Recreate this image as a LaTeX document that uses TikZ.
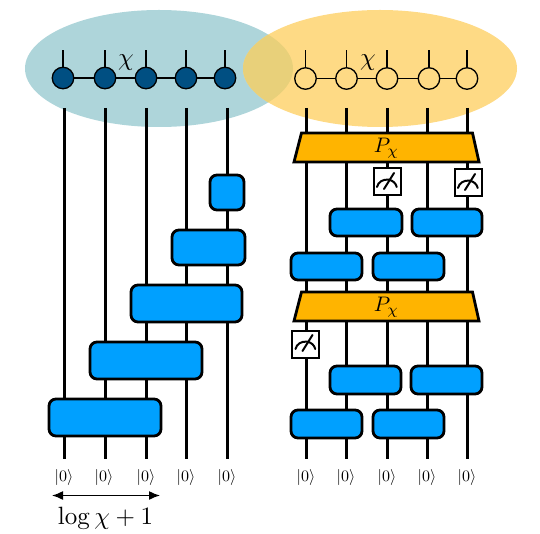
\documentclass[tikz,border=0pt]{standalone}
\usepackage{graphicx}
\usetikzlibrary{arrows.meta}
\definecolor{tealell}{HTML}{AED5DA}
\definecolor{goldell}{HTML}{FEDA85}
\definecolor{overlapell}{HTML}{E8D07A}
\definecolor{sitedark}{HTML}{004F82}
\definecolor{gateblue}{HTML}{00A0FF}
\definecolor{projorange}{HTML}{FFB400}
\tikzset{
  x=1pt,y=-1pt,
  wire/.style={line width=3pt,black},
  leg/.style={line width=1.8pt,black},
  bond/.style={line width=1.6pt,black},
  gatebox/.style={draw=black,line width=2.8pt,fill=gateblue,rounded corners=7pt,inner sep=0pt},
  projbox/.style={draw=black,line width=2.8pt,fill=projorange,line join=miter},
  meterbox/.style={draw=black,line width=2pt,fill=white,minimum width=27pt,minimum height=27pt,inner sep=0pt},
  darksite/.style={circle,draw=black,line width=1.3pt,fill=sitedark,minimum size=21.5pt,inner sep=0pt},
  lightsite/.style={circle,draw=black,line width=1.3pt,fill=goldell,minimum size=21.5pt,inner sep=0pt},
  ket/.style={inner sep=0pt},
  dimarrow/.style={line width=1.4pt,{Latex[length=11pt,width=9pt]}-{Latex[length=11pt,width=9pt]}},
}
\newcommand{\gate}[5]{\node[gatebox,minimum width=#4pt-#2pt,minimum height=#5pt-#3pt] (#1) at ({(#2+#4)/2},{(#3+#5)/2}) {};}
\newcommand{\proj}[2]{%
  \draw[projbox] (301.5,#2) -- (472.5,#2) -- (479,#2+29) -- (294,#2+29) -- cycle;
  \node[inner sep=0pt] (#1) at (386.5,#2+15) {\scalebox{2.1}{$P_\chi$}};}
\newcommand{\meter}[3]{%
  \node[meterbox] (#1) at (#2,#3) {};
  \draw[line width=2pt,line cap=round] (#2-10,#3+5) arc[start angle=170,end angle=10,x radius=10pt,y radius=9pt];
  \draw[line width=2pt,line cap=round] (#2-3,#3+7) -- (#2+7,#3-9);}
\begin{document}
\begin{tikzpicture}
\useasboundingbox (0,0) rectangle (540,534);
% ellipses
\fill[tealell] (159,68.5) ellipse[x radius=134,y radius=58.5];
\fill[goldell] (380,68.5) ellipse[x radius=137,y radius=58.5];
\begin{scope}
\clip (159,68.5) ellipse[x radius=134,y radius=58.5];
\fill[overlapell] (380,68.5) ellipse[x radius=137,y radius=58.5];
\end{scope}
% wire ends
\foreach \n/\x in {a/64,b/105,c/146,d/186,e/227,f/306,g/346,h/387,i/427,j/467}{
  \coordinate (\n top) at (\x,108);
  \coordinate (\n bot) at (\x,459);
  \draw[wire] (\n top) -- (\n bot);
}
% MPS left
\foreach \n/\x in {1/63,2/105,3/146,4/186,5/225}{
  \node[darksite] (L\n) at (\x,78) {};
  \coordinate (Lt\n) at (\x,50);
  \draw[leg] (L\n) -- (Lt\n);
}
\draw[bond] (L1) -- (L2);\draw[bond] (L2) -- (L3);\draw[bond] (L3) -- (L4);\draw[bond] (L4) -- (L5);
% MPS right
\foreach \n/\x in {1/305.5,2/346.5,3/387,4/429,5/467}{
  \node[lightsite] (R\n) at (\x,78.5) {};
  \coordinate (Rt\n) at (\x,50);
  \draw[leg] (R\n) -- (Rt\n);
}
\draw[bond] (R1) -- (R2);\draw[bond] (R2) -- (R3);\draw[bond] (R3) -- (R4);\draw[bond] (R4) -- (R5);
\node[inner sep=0pt] (chiL) at (126,63) {\scalebox{2.5}{$\chi$}};
\node[inner sep=0pt] (chiR) at (368,63) {\scalebox{2.5}{$\chi$}};
% left gates
\gate{ga}{210}{175}{244}{210}
\gate{gb}{172}{230}{245}{265}
\gate{gc}{131}{285}{242}{322}
\gate{gd}{90}{342}{202}{379}
\gate{ge}{49}{399}{161}{436}
% right circuit
\proj{p1}{133}
\meter{m1}{387}{182}
\meter{m2}{468}{183}
\gate{r1}{330}{209}{402}{236}
\gate{r2}{412}{209}{482}{236}
\gate{r3}{291}{253}{362}{280}
\gate{r4}{373}{253}{444}{280}
\proj{p2}{292}
\meter{m3}{305.5}{344}
\gate{r5}{330}{366}{401}{394}
\gate{r6}{411}{366}{482}{394}
\gate{r7}{291}{410}{362}{438}
\gate{r8}{373}{410}{444}{438}
% kets
\foreach \n/\x in {1/64,2/104,3/146,4/186,5/227,6/306,7/346,8/387,9/427,10/467}{
  \node[ket] (k\n) at (\x,477.5) {\scalebox{1.6}{$|0\rangle$}};
}
% arrow
\coordinate (arL) at (52,495.5);
\coordinate (arR) at (160,495.5);
\draw[dimarrow] (arL) -- (arR);
\node[inner sep=0pt] (lab) at (105.5,518) {\scalebox{2.5}{$\log\chi+1$}};
\end{tikzpicture}
\end{document}
